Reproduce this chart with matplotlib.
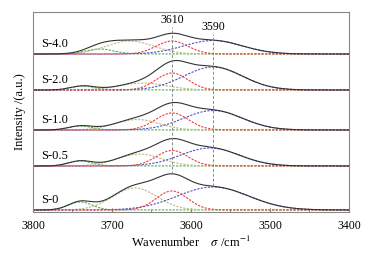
import numpy as np
import matplotlib
matplotlib.use("Agg")
import matplotlib.pyplot as plt
from matplotlib.ticker import MultipleLocator

plt.rcParams['font.family'] = ['Liberation Serif', 'DejaVu Serif']
plt.rcParams['mathtext.fontset'] = 'stix'

# Muestras y desplazamientos verticales (a.u.)
muestras = ["S-0", "S-0.5", "S-1.0", "S-2.0", "S-4.0"]
desplazamientos = [2, 46, 82, 122, 158]

# Picos ajustados: posición (cm-1), altura, anchura
verde_pos = [3740, 3740, 3740, 3737, 3715]
verde_alt = [8, 5, 4, 4, 5]
verde_anc = [15, 15, 15, 15, 18]

oliva_pos = [3671, 3665, 3668, 3660, 3677]
oliva_alt = [22, 12, 10.5, 7, 13]
oliva_anc = [28, 28, 28, 30, 30]

rojo_pos = [3624, 3624, 3624, 3624, 3624]
rojo_alt = [19, 15.5, 17, 17, 13]
rojo_anc = [20, 20, 21, 20, 20]

azul_pos = [3572, 3576, 3572, 3572, 3572]
azul_alt = [23, 18, 19.5, 23, 13.5]
azul_anc = [45, 37, 37, 37, 37]

lineas_ref = [3624, 3572]
etiquetas_ref = ["3610", "3590"]


def gauss(x, c, a, w):
    return a * np.exp(-0.5 * ((x - c) / w) ** 2)


x = np.linspace(3400, 3800, 801)

fig = plt.figure(figsize=(3.69, 2.56), dpi=100)
ax = fig.add_axes([0.0894, 0.172, 0.8564, 0.781])

estilo = (0, (2, 1.2))
totales = []
for i, nombre in enumerate(muestras):
    y0 = desplazamientos[i]
    g = gauss(x, verde_pos[i], verde_alt[i], verde_anc[i])
    o = gauss(x, oliva_pos[i], oliva_alt[i], oliva_anc[i])
    r = gauss(x, rojo_pos[i], rojo_alt[i], rojo_anc[i])
    b = gauss(x, azul_pos[i], azul_alt[i], azul_anc[i])
    total = g + o + r + b
    totales.append(total)
    ax.plot(x, y0 + g, color='#4caf4c', lw=0.8, ls=estilo)
    ax.plot(x, y0 + o, color='#bcbc78', lw=0.8, ls=estilo)
    ax.plot(x, y0 + b, color='#5050c8', lw=0.8, ls=estilo)
    ax.plot(x, y0 + r, color='#f03a3a', lw=0.8, ls=estilo)
    ax.plot(x, y0 + total, color='#333333', lw=0.8)
    ax.text(3790, y0 + 10, nombre, fontsize=9, ha='left', va='center')

# Líneas verticales de referencia
alturas_texto = [192, 185]
for k, pos in enumerate(lineas_ref):
    base = desplazamientos[0] + np.interp(pos, x, totales[0])
    ax.vlines(pos, base, alturas_texto[k] - 7, colors='#888888', lw=0.7,
              linestyles=(0, (3, 2)))
    ax.text(pos, alturas_texto[k], etiquetas_ref[k], fontsize=8.5,
            ha='center', va='center')

ax.set_xlim(3800, 3400)
ax.set_ylim(0, 200)
ax.set_yticks([])
ax.xaxis.set_major_locator(MultipleLocator(100))
ax.xaxis.set_minor_locator(MultipleLocator(50))
ax.tick_params(axis='x', which='both', direction='in', labelsize=8.5,
               color='#777777', pad=6)
ax.tick_params(axis='x', which='major', length=3)
ax.tick_params(axis='x', which='minor', length=2)
for s in ax.spines.values():
    s.set_color('#888888')
    s.set_linewidth(0.8)

ax.set_xlabel(r"Wavenumber    $\sigma$ /cm$^{-1}$", fontsize=9, labelpad=2)
ax.set_ylabel("Intensity /(a.u.)", fontsize=9, labelpad=5)

plt.savefig("out.png", dpi=100)
